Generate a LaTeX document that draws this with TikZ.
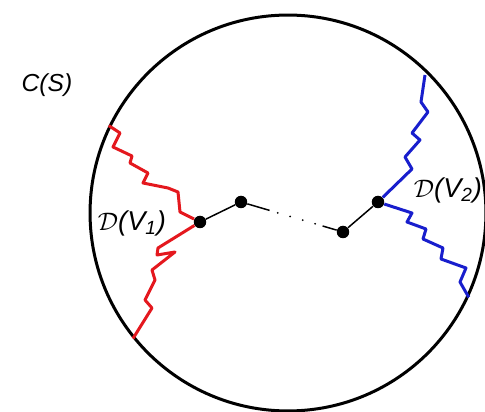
\documentclass[tikz,border=0pt]{standalone}
\usepackage{fontspec}
\setsansfont{Liberation Sans}
\usetikzlibrary{calc}
\definecolor{cutred}{RGB}{228,24,30}
\definecolor{cutblue}{RGB}{24,30,205}

\begin{document}
\begin{tikzpicture}[
  x=0.02cm, y=-0.02cm,
  every node/.style={font=\sffamily\itshape\fontsize{14}{16}\selectfont, inner sep=0pt},
  region/.style={draw, circle, line width=0.06cm, minimum size=7.92cm},
  vertex/.style={circle, fill=black, minimum size=0.25cm},
  chain/.style={line width=0.03cm},
  gap/.style={line width=0.04cm, line cap=round, dash pattern=on 0pt off 0.26cm},
  cutRed/.style={draw=cutred, line width=0.06cm, line join=round},
  cutBlue/.style={draw=cutblue, line width=0.06cm, line join=round},
  cutLabel/.style={font=\sffamily\itshape\fontsize{15.5}{17}\selectfont}
]
\useasboundingbox (0,0) rectangle (485,412);

% the set S and its boundary
\node[region] (cs) at (288,213) {};
\node (cslabel) at (47,85) {C(S)};

% path of vertices
\node[vertex] (v1) at (200,222) {};
\node[vertex] (v2) at (241,202) {};
\node[vertex] (v3) at (343,232) {};
\node[vertex] (v4) at (378,202) {};

\draw[chain] (v1) -- (v2);
\draw[chain] (v2) -- ($(v2)!0.28!(v3)$);
\draw[gap] ($(v2)!0.36!(v3)$) -- ($(v2)!0.74!(v3)$);
\draw[chain] ($(v2)!0.80!(v3)$) -- (v3);
\draw[chain] (v3) -- (v4);

% cuts through V1 and V2
\coordinate (r1) at (cs.154);
\coordinate (r2) at (cs.219.5);
\coordinate (b1) at (425,75);
\coordinate (b2) at (cs.-25);

\draw[cutRed] (v1) -- (180,212) -- (178,192) -- (168,188) -- (143,183) -- (148,173)
  -- (130,163) -- (132,156) -- (113,147) -- (120,133) -- (r1);
\draw[cutRed] (v1) -- (158,248) -- (157,255) -- (175,252) -- (152,270) -- (155,280)
  -- (145,300) -- (152,308) -- (r2);
\draw[cutBlue] (v4) -- (412,169) -- (405,157) -- (420,140) -- (412,133) -- (428,112)
  -- (421,102) -- (b1);
\draw[cutBlue] (v4) -- (412,213) -- (407,222) -- (426,229) -- (423,239) -- (443,248)
  -- (441,259) -- (466,268) -- (460,282) -- (b2);

\node[cutLabel] (d1) at (132,223) {$\mathcal{D}$(V\textsubscript{1})};
\node[cutLabel] (d2) at (448,190) {$\mathcal{D}$(V\textsubscript{2})};
\end{tikzpicture}
\end{document}
